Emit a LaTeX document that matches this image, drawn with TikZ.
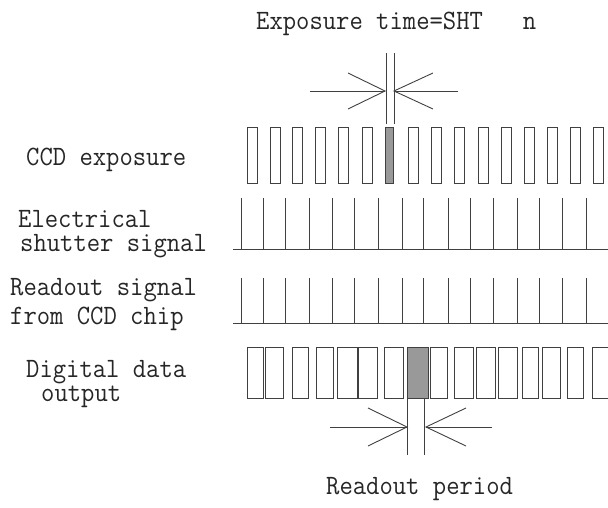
\documentclass[tikz,border=0pt]{standalone}
\usepackage{fontspec}
\usepackage{graphicx}
\newcommand{\mtxt}[1]{\scalebox{0.925}[1]{\ttfamily\fontsize{28}{30}\selectfont #1}}
\begin{document}
\begin{tikzpicture}[x=1pt,y=-1pt,
  ln/.style={draw=black!75,line width=0.9pt},
  lbl/.style={text=black!85,inner sep=0pt,anchor=base west},
  lbl2/.style={text=black!85,inner sep=0pt,anchor=north west,align=left,font=\fontsize{28}{24}\selectfont},
  ccdbox/.style={ln},
  shade/.style={ln,fill=black!40}]
\useasboundingbox (0,0) rectangle (608,508);
% title
\node[lbl] (title) at (256,30) {\mtxt{Exposure time=SHT\ \ \ n}};
% left labels
\node[lbl] (l1) at (26,165) {\mtxt{CCD exposure}};
\node[lbl2] (l2) at (18,210) {\mtxt{Electrical}\\\hspace*{2pt}\mtxt{shutter signal}};
\node[lbl2] (l3) at (10,278) {\mtxt{Readout signal}\\[5pt]\mtxt{from CCD chip}};
\node[lbl2] (l4) at (26,360) {\mtxt{Digital data}\\\hspace*{15pt}\mtxt{output}};
\node[lbl] (bottom) at (326,494) {\mtxt{Readout period}};
% CCD exposure boxes
\foreach \x in {247,270,292,315,338,362,408,431,454,478,501,524,547,570,593}
  \draw[ccdbox] (\x,127) rectangle ++(10,56);
\draw[shade] (385,127) rectangle (393,183);
% electrical shutter signal
\draw[ln] (233,249) -- (608,249);
\foreach \x in {241,263,285,309,332,354,378,402,423,448,470,493,517,539,562,586}
  \draw[ln] (\x,198) -- (\x,249);
% readout signal
\draw[ln] (233,323) -- (608,323);
\foreach \x in {241,263,285,309,332,354,378,402,423,448,470,493,517,539,562,586}
  \draw[ln] (\x,278) -- (\x,323);
% digital data output boxes
\foreach \a/\b in {247/263,265/283,292/308,316/333,337/357,358/377,384/403,430/447,454/473,476/495,498/517,522/538,542/560,567/583,592/608}
  \draw[ccdbox] (\a,347) rectangle (\b,398);
\draw[shade] (407,347) rectangle (428,398);
% top arrow (exposure time)
\coordinate (tl) at (385,91);
\coordinate (tr) at (394,91);
\draw[ln] (310,91) -- (tl);
\draw[ln] (348,73) -- (tl) -- (348,109);
\draw[ln] (458,91) -- (tr);
\draw[ln] (433,73) -- (tr) -- (433,109);
\draw[ln] (386,53) -- (386,124);
\draw[ln] (394,53) -- (394,124);
% bottom arrow (readout period)
\coordinate (bl) at (407,427);
\coordinate (br) at (426,427);
\draw[ln] (330,427) -- (bl);
\draw[ln] (368,408) -- (bl) -- (368,446);
\draw[ln] (492,427) -- (br);
\draw[ln] (466,408) -- (br) -- (466,446);
\draw[ln] (407,398) -- (407,455);
\draw[ln] (424,398) -- (424,455);
\end{tikzpicture}
\end{document}
